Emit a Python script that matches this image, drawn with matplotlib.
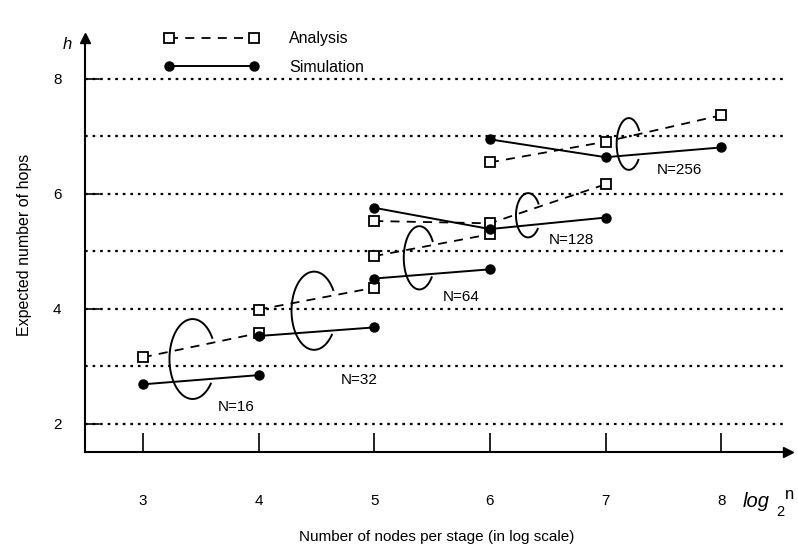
import matplotlib
matplotlib.use("Agg")
import numpy as np
import matplotlib.pyplot as plt
from matplotlib.lines import Line2D

plt.rcParams['font.family'] = ['Liberation Sans', 'DejaVu Sans']

# ---- data ----
labels = ["N=16", "N=32", "N=64", "N=128", "N=256"]
analysis_x = [[3, 4], [4, 5], [5, 6], [5, 6, 7], [6, 7, 8]]
analysis_y = [[3.16, 3.58], [3.99, 4.37], [4.92, 5.30], [5.53, 5.49, 6.17], [6.55, 6.91, 7.37]]
sim_x = [[3, 4], [4, 5], [5, 6], [5, 6, 7], [6, 7, 8]]
sim_y = [[2.69, 2.85], [3.53, 3.68], [4.53, 4.69], [5.76, 5.39, 5.59], [6.95, 6.64, 6.81]]
xticks = [3, 4, 5, 6, 7, 8]
yticks = [2, 4, 6, 8]
grid_levels = [2, 3, 4, 5, 6, 7, 8]

fig = plt.figure(figsize=(7.98, 5.49), dpi=100)
ax = fig.add_axes([85/798, 1-452/549, 703/798, 414/549])
ax.set_xlim(2.5, 8.576)
ax.set_ylim(1.513, 8.713)

# dotted horizontal grid lines
for g in grid_levels:
    ax.plot([2.5, 8.55], [g, g], color='black', lw=1.6,
            linestyle=(0, (1.2, 2.2)), zorder=1)
# short solid ticks at labelled y levels
for t in yticks:
    ax.plot([2.5, 2.62], [t, t], color='black', lw=1.2, zorder=2)

for xa, ya, xs, ys in zip(analysis_x, analysis_y, sim_x, sim_y):
    ax.plot(xa, ya, color='black', lw=1.3, linestyle=(0, (5, 4)),
            marker='s', markersize=7, markerfacecolor='white',
            markeredgecolor='black', markeredgewidth=1.3, zorder=3)
    ax.plot(xs, ys, color='black', lw=1.4, marker='o', markersize=6.5,
            markerfacecolor='black', zorder=4)

# open ellipse annotations (center, width, height)
arcs = [(3.43, 3.13, 0.40, 1.39), (4.48, 3.97, 0.39, 1.36),
        (5.39, 4.89, 0.27, 1.10), (6.33, 5.63, 0.21, 0.77),
        (7.20, 6.87, 0.21, 0.90)]
label_pos = [(3.65, 2.30), (4.71, 2.77), (5.59, 4.21), (6.51, 5.20), (7.44, 6.42)]
theta = np.radians(np.linspace(32, 322, 120))
for (cx, cy, w, h), lab, (tx, ty) in zip(arcs, labels, label_pos):
    ax.plot(cx + 0.5 * w * np.cos(theta), cy + 0.5 * h * np.sin(theta),
            color='black', lw=1.4, zorder=5)
    ax.text(tx, ty, lab, fontsize=11, ha='left', va='center')

for s in ['top', 'right']:
    ax.spines[s].set_visible(False)
ax.spines['left'].set_linewidth(1.5)
ax.spines['bottom'].set_linewidth(1.5)

ax.set_xticks(xticks)
ax.set_xticklabels([str(v) for v in xticks], fontsize=11)
ax.set_yticks(yticks)
ax.set_yticklabels([str(v) for v in yticks], fontsize=11)
ax.tick_params(axis='x', direction='in', length=14, width=1.2, pad=30)
ax.tick_params(axis='y', length=0, pad=17)

# axis arrows
ax.plot([1], [0], marker='>', color='black', markersize=7,
        transform=ax.transAxes, clip_on=False)
ax.plot([0], [1], marker='^', color='black', markersize=7,
        transform=ax.transAxes, clip_on=False)
ax.text(-0.025, 0.985, 'h', transform=ax.transAxes, fontsize=12,
        style='italic', ha='center', va='center')
ax.text(0.936, -0.12, 'log', transform=ax.transAxes, fontsize=14.5,
        style='italic', ha='left', va='center')
ax.text(0.983, -0.146, '2', transform=ax.transAxes, fontsize=10.5,
        ha='left', va='center')
ax.text(0.996, -0.103, 'n', transform=ax.transAxes, fontsize=12,
        ha='left', va='center')

ax.set_xlabel('Number of nodes per stage (in log scale)', fontsize=11, labelpad=16)
ax.set_ylabel('Expected number of hops', fontsize=11.5, labelpad=15)

handles = [
    Line2D([], [], color='black', lw=1.3, linestyle=(0, (5, 4)), marker='s',
           markersize=7, markerfacecolor='white', markeredgewidth=1.3),
    Line2D([], [], color='black', lw=1.4, marker='o', markersize=6.5),
]
ax.legend(handles, ['Analysis', 'Simulation'], loc='upper left',
          bbox_to_anchor=(0.113, 1.016), frameon=False, numpoints=2,
          handlelength=5.9, handletextpad=1.9, labelspacing=0.85,
          borderpad=0, borderaxespad=0, fontsize=11.5)

fig.savefig('out.png', dpi=100)
